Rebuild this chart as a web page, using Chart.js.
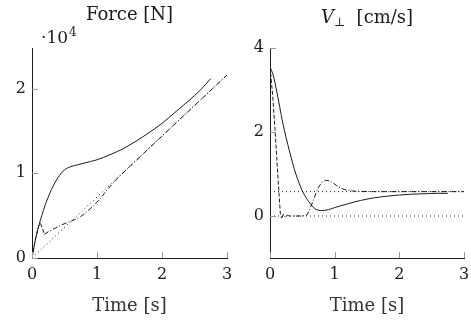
<!DOCTYPE html>
<html>
<head>
<meta charset="utf-8">
<script src="https://cdn.jsdelivr.net/npm/chart.js@4.4.0/dist/chart.umd.min.js"></script>
<style>
  body { margin: 0; background: #fff; }
  canvas { position: absolute; top: 0; }
  #forceChart { left: 0; }
  #velChart { left: 236px; }
</style>
</head>
<body>
<canvas id="forceChart" width="236" height="322"></canvas>
<canvas id="velChart" width="235" height="322"></canvas>
<script>
// tick labels
const timeTicks = [0, 1, 2, 3];
const forceTicksY = [0, 1, 2];
const velTicksY = [0, 2, 4];

// Force panel, values in 1e4 N
const forceTimeSolid = [0, 0.05, 0.1, 0.15, 0.2, 0.25, 0.3, 0.4, 0.5, 0.6, 0.7, 0.8, 0.9, 1.0, 1.2, 1.4, 1.6, 1.8, 2.0, 2.2, 2.4, 2.6, 2.75];
const forceSolid = [0, 0.21, 0.37, 0.5, 0.62, 0.72, 0.81, 0.95, 1.04, 1.08, 1.1, 1.12, 1.14, 1.16, 1.22, 1.29, 1.38, 1.48, 1.59, 1.72, 1.85, 1.99, 2.12];
const forceTimeDashed = [0, 0.05, 0.1, 0.13, 0.16, 0.19];
const forceDashed = [0, 0.21, 0.37, 0.41, 0.35, 0.28];
const forceTimeDashDot = [0.19, 0.25, 0.35, 0.45, 0.55, 0.65, 0.75, 0.85, 0.95, 1.05, 1.15, 1.3, 1.6, 2.0, 2.5, 3.0];
const forceDashDot = [0.28, 0.31, 0.35, 0.39, 0.42, 0.45, 0.49, 0.55, 0.62, 0.7, 0.8, 0.93, 1.15, 1.44, 1.8, 2.16];
const forceTimeRef = [0, 3];
const forceRef = [0, 2.16];

// V_perp panel, cm/s
const velTimeSolid = [0, 0.05, 0.1, 0.15, 0.2, 0.3, 0.4, 0.5, 0.6, 0.7, 0.8, 0.9, 1.0, 1.2, 1.4, 1.6, 1.8, 2.0, 2.2, 2.4, 2.6, 2.75];
const velSolid = [3.55, 3.35, 3.0, 2.6, 2.2, 1.55, 1.0, 0.6, 0.34, 0.17, 0.13, 0.15, 0.2, 0.29, 0.37, 0.43, 0.47, 0.5, 0.52, 0.53, 0.54, 0.54];
const velTimeDashed = [0, 0.04, 0.08, 0.12, 0.16, 0.18];
const velDashed = [3.55, 2.9, 2.0, 1.0, 0.05, -0.05];
const velTimeDashDot = [0.18, 0.21, 0.24, 0.27, 0.3, 0.4, 0.5, 0.57, 0.62, 0.68, 0.74, 0.8, 0.86, 0.92, 0.98, 1.05, 1.15, 1.3, 1.6, 2.0, 2.5, 3.0];
const velDashDot = [-0.05, 0.05, -0.03, 0.02, 0, 0, 0, 0.02, 0.17, 0.42, 0.66, 0.8, 0.85, 0.84, 0.78, 0.7, 0.63, 0.59, 0.58, 0.58, 0.58, 0.58];
const velTimeRef = [0, 3];
const velRefHigh = [0.58, 0.58];
const velRefLow = [0, 0];

const SERIF = '"DejaVu Serif", serif';
const INK = '#1a1a1a';

function pts(t, v) {
    return t.map((x, i) => ({ x: x, y: v[i] }));
}

function line(t, v, dash, smooth) {
    return {
        data: pts(t, v),
        borderColor: INK,
        borderWidth: 1,
        borderDash: dash,
        pointRadius: 0,
        fill: false,
        cubicInterpolationMode: smooth ? 'monotone' : 'default',
        tension: 0
    };
}

// grey tick marks pointing into the plot
const innerTicks = {
    id: 'innerTicks',
    afterDatasetsDraw(chart) {
        const { ctx, chartArea: a, scales: { x, y } } = chart;
        ctx.save();
        ctx.strokeStyle = '#9a9a9a';
        ctx.lineWidth = 1;
        ctx.beginPath();
        x.ticks.forEach(t => {
            const px = Math.round(x.getPixelForValue(t.value)) + 0.5;
            ctx.moveTo(px, a.bottom);
            ctx.lineTo(px, a.bottom - 6);
        });
        y.ticks.forEach(t => {
            const py = Math.round(y.getPixelForValue(t.value)) + 0.5;
            ctx.moveTo(a.left, py);
            ctx.lineTo(a.left + 6, py);
        });
        ctx.stroke();
        ctx.restore();
    }
};

function makeOptions(yMin, yMax, yTicks, yWidth, padRight) {
    return {
        responsive: false,
        animation: false,
        layout: { padding: { top: 48, right: padRight, left: 0, bottom: 0 } },
        plugins: { legend: { display: false }, tooltip: { enabled: false } },
        scales: {
            x: {
                type: 'linear',
                min: 0, max: 3,
                afterBuildTicks: s => { s.ticks = timeTicks.map(v => ({ value: v })); },
                afterFit: s => { s.height = 64; s.paddingLeft = 0; s.paddingRight = 0; },
                grid: { drawOnChartArea: false, drawTicks: false },
                border: { display: true, color: INK, width: 1 },
                ticks: { color: INK, padding: 7, font: { family: SERIF, size: 16 } },
                title: { display: true, text: 'Time [s]', color: '#333', padding: { top: 4, bottom: 5 }, font: { family: SERIF, size: 18 } }
            },
            y: {
                type: 'linear',
                min: yMin, max: yMax,
                afterBuildTicks: s => { s.ticks = yTicks.map(v => ({ value: v })); },
                afterFit: s => { s.width = yWidth; s.paddingTop = 0; s.paddingBottom = 0; },
                grid: { drawOnChartArea: false, drawTicks: false },
                border: { display: true, color: INK, width: 1 },
                ticks: { color: INK, padding: 6, font: { family: SERIF, size: 16 } }
            }
        }
    };
}

new Chart(document.getElementById('forceChart'), {
    type: 'line',
    data: {
        datasets: [
            line(forceTimeRef, forceRef, [1, 3], false),
            line(forceTimeDashDot, forceDashDot, [5, 2, 1, 2], false),
            line(forceTimeDashed, forceDashed, [4, 2], false),
            line(forceTimeSolid, forceSolid, [], true)
        ]
    },
    options: makeOptions(0, 2.48, forceTicksY, 32, 9),
    plugins: [innerTicks, {
        id: 'forceTitle',
        afterDraw(chart) {
            const { ctx, chartArea: a } = chart;
            ctx.save();
            ctx.fillStyle = INK;
            ctx.textAlign = 'center';
            ctx.font = '18px ' + SERIF;
            ctx.fillText('Force [N]', (a.left + a.right) / 2, 20);
            ctx.textAlign = 'left';
            ctx.font = '17px ' + SERIF;
            ctx.fillText('·10', 41, 43);
            const w = ctx.measureText('·10').width;
            ctx.font = '12px ' + SERIF;
            ctx.fillText('4', 41 + w + 1, 36);
            ctx.restore();
        }
    }]
});

new Chart(document.getElementById('velChart'), {
    type: 'line',
    data: {
        datasets: [
            line(velTimeRef, velRefLow, [1, 3], false),
            line(velTimeRef, velRefHigh, [1, 3], false),
            line(velTimeDashDot, velDashDot, [5, 2, 1, 2], false),
            line(velTimeDashed, velDashed, [4, 2], false),
            line(velTimeSolid, velSolid, [], true)
        ]
    },
    options: makeOptions(-1, 4, velTicksY, 34, 7),
    plugins: [innerTicks, {
        id: 'velTitle',
        afterDraw(chart) {
            const { ctx, chartArea: a } = chart;
            const partV = 'V', partSub = '⊥', partRest = '  [cm/s]';
            ctx.save();
            ctx.fillStyle = INK;
            ctx.textAlign = 'left';
            ctx.font = 'italic 18px ' + SERIF;
            const wV = ctx.measureText(partV).width;
            ctx.font = '12px ' + SERIF;
            const wS = ctx.measureText(partSub).width;
            ctx.font = '18px ' + SERIF;
            const wR = ctx.measureText(partRest).width;
            let x0 = (a.left + a.right) / 2 - (wV + wS + wR) / 2;
            ctx.font = 'italic 18px ' + SERIF;
            ctx.fillText(partV, x0, 23);
            ctx.font = '12px ' + SERIF;
            ctx.fillText(partSub, x0 + wV, 26);
            ctx.font = '18px ' + SERIF;
            ctx.fillText(partRest, x0 + wV + wS, 23);
            ctx.restore();
        }
    }]
});
</script>
</body>
</html>
